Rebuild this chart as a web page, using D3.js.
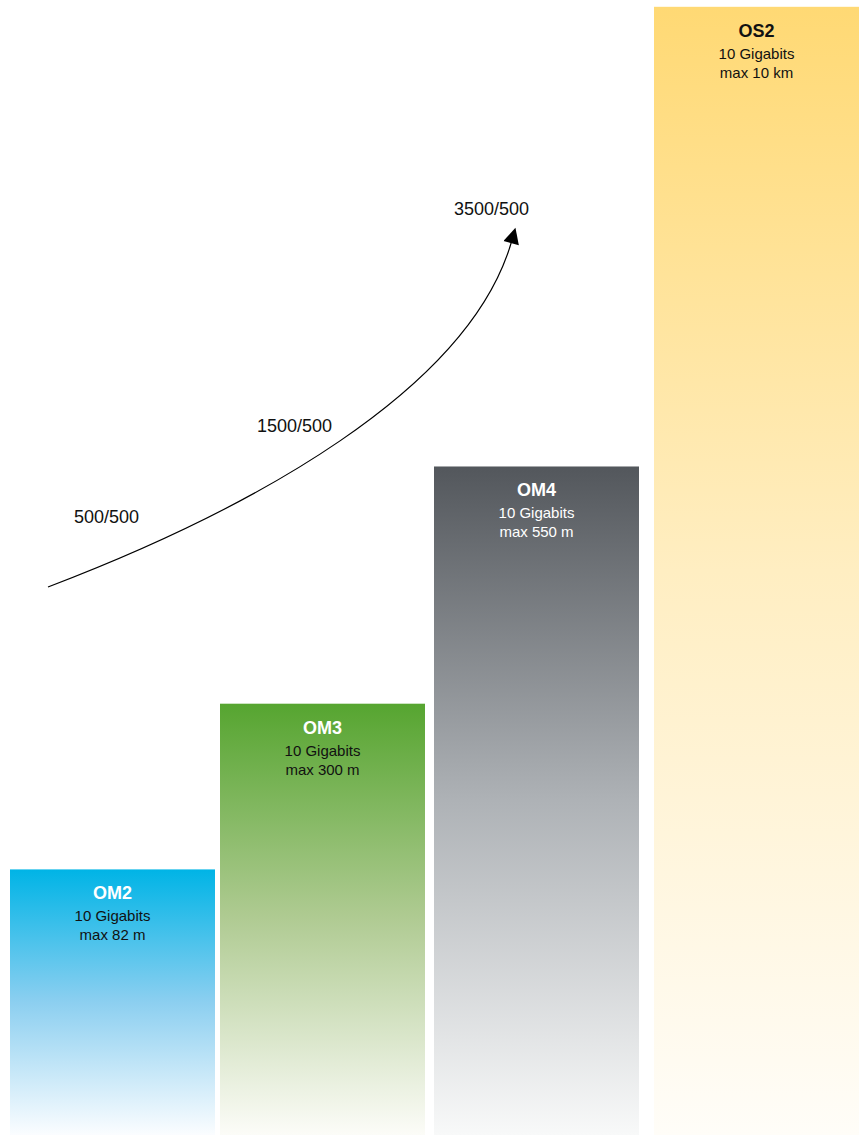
<!DOCTYPE html>
<html lang="en">
<head>
    <meta charset="UTF-8">
    <title>Fibre types</title>
    <script src="https://cdn.jsdelivr.net/npm/d3@7/dist/d3.min.js"></script>
    <style>
        body { margin: 0; background: #fff; }
        svg text { font-family: "Liberation Sans", Arial, sans-serif; }
    </style>
</head>
<body>
    <script>
        //size of the page
        var w = 866;
        var h = 1135;

        //data
        var categories = ['OM2', 'OM3', 'OM4', 'OS2'];
        var speeds = ['10 Gigabits', '10 Gigabits', '10 Gigabits', '10 Gigabits'];
        var distances = ['max 82 m', 'max 300 m', 'max 550 m', 'max 10 km'];
        //relative bar height, percent of the page height
        var levels = [23.4, 38.0, 58.9, 99.4];
        //bandwidth labels along the arrow
        var bandwidthLabels = ['500/500', '1500/500', '3500/500'];

        //gradient colours: top, middle, bottom
        var gradients = [
            ['#00b4e6', '#8ccff0', '#fbfdff'],
            ['#56a530', '#b0cb93', '#fcfcf8'],
            ['#53575c', '#aeb2b6', '#f8f9f9'],
            ['#ffd974', '#ffeec2', '#fffdf8']
        ];
        var titleColors = ['#ffffff', '#ffffff', '#ffffff', '#111111'];
        var textColors = ['#111111', '#111111', '#ffffff', '#111111'];

        //scales - the bars are not evenly spaced in the original
        var xScale = d3.scaleOrdinal()
                        .domain(categories)
                        .range([10, 220, 434, 654]);
        var barWidth = 205;

        var yScale = d3.scaleLinear()
                        .domain([0, 100])
                        .range([h, 0]);

        var svg = d3.select('body')
                    .append('svg')
                    .attr('width', w)
                    .attr('height', h);

        var defs = svg.append('defs');

        //one vertical gradient per bar
        categories.forEach(function(c, i) {
            var g = defs.append('linearGradient')
                .attr('id', 'grad-' + c)
                .attr('x1', 0).attr('y1', 0)
                .attr('x2', 0).attr('y2', 1);
            g.append('stop').attr('offset', '0%').attr('stop-color', gradients[i][0]);
            g.append('stop').attr('offset', '50%').attr('stop-color', gradients[i][1]);
            g.append('stop').attr('offset', '100%').attr('stop-color', gradients[i][2]);
        });

        //arrow head
        defs.append('marker')
            .attr('id', 'arrow')
            .attr('viewBox', '0 0 10 10')
            .attr('refX', 2)
            .attr('refY', 5)
            .attr('markerWidth', 18)
            .attr('markerHeight', 16)
            .attr('markerUnits', 'userSpaceOnUse')
            .attr('orient', 'auto')
            .append('path')
            .attr('d', 'M0,0 L10,5 L0,10 Z')
            .attr('fill', '#000');

        //bars
        svg.selectAll('rect.bar')
            .data(categories)
            .enter()
            .append('rect')
            .attr('class', 'bar')
            .attr('x', function(d) { return xScale(d); })
            .attr('y', function(d, i) { return yScale(levels[i]); })
            .attr('width', barWidth)
            .attr('height', function(d, i) { return h - yScale(levels[i]); })
            .attr('fill', function(d) { return 'url(#grad-' + d + ')'; });

        //bar labels
        var labels = svg.selectAll('g.label')
            .data(categories)
            .enter()
            .append('g')
            .attr('class', 'label')
            .attr('transform', function(d, i) {
                return 'translate(' + (xScale(d) + barWidth / 2) + ',' + yScale(levels[i]) + ')';
            })
            .attr('text-anchor', 'middle');

        labels.append('text')
            .attr('y', 30)
            .attr('font-size', '18px')
            .attr('font-weight', 'bold')
            .attr('fill', function(d, i) { return titleColors[i]; })
            .text(function(d) { return d; });

        labels.append('text')
            .attr('y', 52)
            .attr('font-size', '15px')
            .attr('fill', function(d, i) { return textColors[i]; })
            .text(function(d, i) { return speeds[i]; });

        labels.append('text')
            .attr('y', 71)
            .attr('font-size', '15px')
            .attr('fill', function(d, i) { return textColors[i]; })
            .text(function(d, i) { return distances[i]; });

        //rising arrow
        var curve = d3.path();
        curve.moveTo(48, 587);
        curve.bezierCurveTo(250, 510, 470, 390, 512, 240);
        svg.append('path')
            .attr('d', curve.toString())
            .attr('fill', 'none')
            .attr('stroke', '#000')
            .attr('stroke-width', 1.2)
            .attr('marker-end', 'url(#arrow)');

        //bandwidth labels
        var labelPos = [[74, 523], [257, 432], [454, 215]];
        svg.selectAll('text.bw')
            .data(bandwidthLabels)
            .enter()
            .append('text')
            .attr('class', 'bw')
            .attr('x', function(d, i) { return labelPos[i][0]; })
            .attr('y', function(d, i) { return labelPos[i][1]; })
            .attr('font-size', '18px')
            .attr('fill', '#111')
            .text(function(d) { return d; });
    </script>
</body>
</html>
